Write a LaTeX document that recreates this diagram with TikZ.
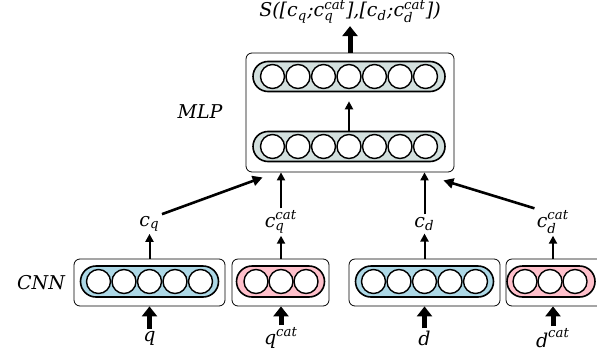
\documentclass[tikz,border=0pt]{standalone}
\usepackage{fontspec}
\usepackage{amsmath}
\setmainfont{DejaVu Serif}
\usetikzlibrary{arrows.meta,calc}

\definecolor{mlpfill}{RGB}{211,224,222}
\definecolor{cnnblue}{RGB}{173,216,230}
\definecolor{cnnpink}{RGB}{255,192,203}

\newcommand{\px}[1]{#1*0.5pt}
\newcommand{\itx}[1]{\text{\itshape #1}}
\newcommand{\nrn}{\node[circle, draw, line width=0.7pt, fill=white, minimum size=\px{24}, inner sep=0pt]}
\newcommand{\lyr}{\node[rectangle, draw, line width=0.8pt, rounded corners=\px{15}, minimum height=\px{30}, inner sep=0pt]}
\newcommand{\bx}{\node[rectangle, draw, line width=0.4pt, rounded corners=\px{6}, inner sep=0pt]}
\newcommand{\lbl}{\node[inner sep=1pt, font=\fontsize{9.5}{11}\selectfont]}
\newcommand{\fatarr}{\draw[line width=2.5pt, -{Triangle[length=5pt, width=7.5pt]}]}
\newcommand{\longarr}{\draw[line width=1.3pt, -{Triangle[length=5pt, width=5pt]}]}
\newcommand{\smallarr}{\draw[line width=1pt, -{Triangle[length=4pt, width=4pt]}]}

\begin{document}
\begin{tikzpicture}[x=0.5pt, y=-0.5pt]
            \useasboundingbox (0,0) rectangle (597,358);
            \clip (0,0) rectangle (597,358);

            % boxes
            \bx[minimum width=\px{208}, minimum height=\px{119}] (mlpbox) at (350, 112.5) {};
            \bx[minimum width=\px{151}, minimum height=\px{47}] (cnnq) at (149.5, 282.5) {};
            \bx[minimum width=\px{97}, minimum height=\px{47}] (cnnqc) at (280.5, 282.5) {};
            \bx[minimum width=\px{151}, minimum height=\px{47}] (cnnd) at (424.5, 282.5) {};
            \bx[minimum width=\px{97}, minimum height=\px{47}] (cnndc) at (554.5, 282.5) {};

            % layers
            \lyr[fill=mlpfill, minimum width=\px{192}] (mlptop) at (349, 76.5) {};
            \lyr[fill=mlpfill, minimum width=\px{192}] (mlpbot) at (349, 146.5) {};
            \lyr[fill=cnnblue, minimum width=\px{138}, minimum height=\px{31}, rounded corners=\px{15.5}] (lq) at (149.5, 281.5) {};
            \lyr[fill=cnnpink, minimum width=\px{88}, minimum height=\px{31}, rounded corners=\px{15.5}] (lqc) at (280.5, 281.5) {};
            \lyr[fill=cnnblue, minimum width=\px{138}, minimum height=\px{31}, rounded corners=\px{15.5}] (ld) at (424.5, 281.5) {};
            \lyr[fill=cnnpink, minimum width=\px{88}, minimum height=\px{31}, rounded corners=\px{15.5}] (ldc) at (551, 281.5) {};

            % neurons
            \nrn (t1) at (272.5, 76.5) {};
            \nrn (t2) at (298, 76.5) {};
            \nrn (t3) at (323.5, 76.5) {};
            \nrn (t4) at (349, 76.5) {};
            \nrn (t5) at (374.5, 76.5) {};
            \nrn (t6) at (400, 76.5) {};
            \nrn (t7) at (425.5, 76.5) {};
            \nrn (b1) at (272.5, 146.5) {};
            \nrn (b2) at (298, 146.5) {};
            \nrn (b3) at (323.5, 146.5) {};
            \nrn (b4) at (349, 146.5) {};
            \nrn (b5) at (374.5, 146.5) {};
            \nrn (b6) at (400, 146.5) {};
            \nrn (b7) at (425.5, 146.5) {};
            \nrn (q1) at (98.5, 281.5) {};
            \nrn (q2) at (124, 281.5) {};
            \nrn (q3) at (149.5, 281.5) {};
            \nrn (q4) at (175, 281.5) {};
            \nrn (q5) at (200.5, 281.5) {};
            \nrn (qc1) at (256, 281.5) {};
            \nrn (qc2) at (281, 281.5) {};
            \nrn (qc3) at (306, 281.5) {};
            \nrn (d1) at (373.5, 281.5) {};
            \nrn (d2) at (399, 281.5) {};
            \nrn (d3) at (424.5, 281.5) {};
            \nrn (d4) at (450, 281.5) {};
            \nrn (d5) at (475.5, 281.5) {};
            \nrn (dc1) at (525, 281.5) {};
            \nrn (dc2) at (550, 281.5) {};
            \nrn (dc3) at (575, 281.5) {};

            % labels
            \lbl (score) at (350, 12) {$\itx{S([c}_{\itx{q}}\itx{;c}_{\itx{q}}^{\itx{cat}}\itx{],[c}_{\itx{d}}\itx{;c}_{\itx{d}}^{\itx{cat}}\itx{])}$};
            \lbl (mlp) at (200, 112) {\itshape MLP};
            \lbl (cnn) at (41, 283) {\itshape CNN};
            \lbl (cq) at (149.5, 224) {$\itx{c}_{\itx{q}}$};
            \lbl (cqc) at (281, 222) {$\itx{c}_{\itx{q}}^{\itx{cat}}$};
            \lbl (cd) at (424.5, 224) {$\itx{c}_{\itx{d}}$};
            \lbl (cdc) at (553, 222) {$\itx{c}_{\itx{d}}^{\itx{cat}}$};
            \lbl (q) at (149.5, 338) {$\itx{q}$};
            \lbl (qc) at (281, 338) {$\itx{q}^{\itx{cat}}$};
            \lbl (d) at (424.5, 338) {$\itx{d}$};
            \lbl (dc) at (553, 338) {$\itx{d}^{\itx{cat}}$};

            \fatarr (mlpbox.north) -- (score.south);
            \fatarr (q.north) -- (cnnq.south);
            \fatarr (qc.north) -- (qc.north |- cnnqc.south);
            \fatarr (d.north) -- (cnnd.south);
            \fatarr (dc.north) -- (dc.north |- cnndc.south);

            \smallarr[shorten >=\px{9}] (mlpbot.north) -- (mlptop.south);
            \smallarr (cnnq.north) -- (cq.south);
            \smallarr (cqc.south |- cnnqc.north) -- (cqc.south);
            \smallarr (cnnd.north) -- (cd.south);
            \smallarr (cdc.south |- cnndc.north) -- (cdc.south);
            \smallarr (cqc.north) -- (cqc.north |- mlpbox.south);
            \smallarr (cd.north) -- (cd.north |- mlpbox.south);

            \longarr (cq.north east) -- ($(mlpbox.south west)+(17,5)$);
            \longarr (cdc.north west) -- ($(mlpbox.south east)+(-11,8)$);
        \end{tikzpicture}
\end{document}
